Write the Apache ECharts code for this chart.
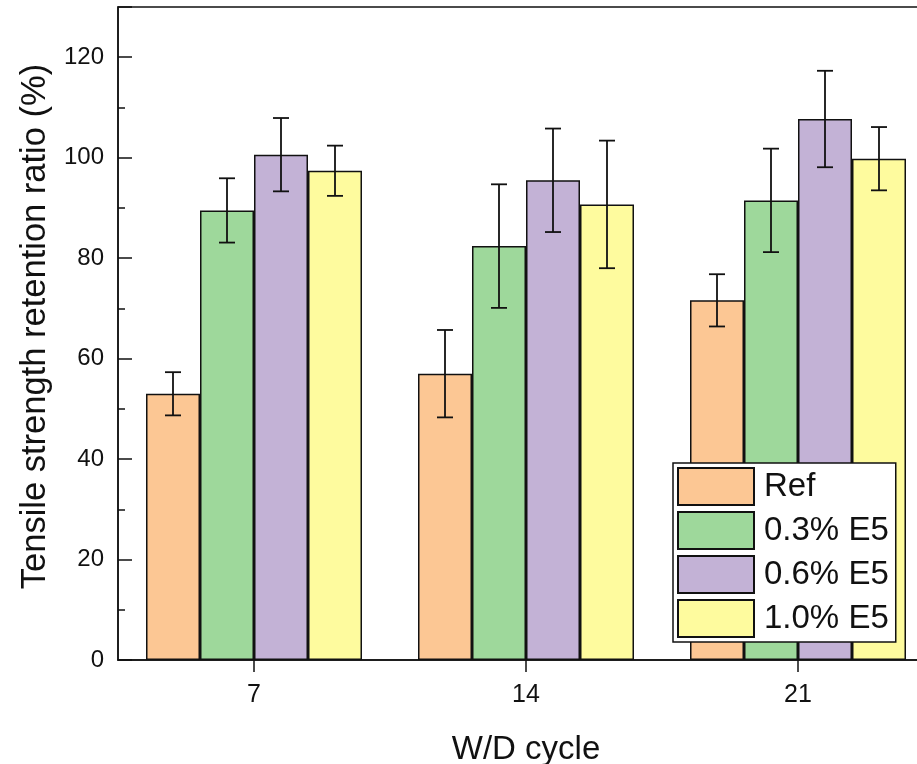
<!DOCTYPE html>
<html>
<head>
<meta charset="utf-8">
<script src="https://cdn.jsdelivr.net/npm/echarts@6/dist/echarts.min.js"></script>
<style>html,body{margin:0;padding:0;background:#fff;}#c{width:917px;height:764px;}</style>
</head>
<body>
<div id="c"></div>
<script>
const categories = ['7', '14', '21'];
const seriesNames = ['Ref', '0.3% E5', '0.6% E5', '1.0% E5'];
const refMean = [53.0, 57.0, 71.6];
const refErr = [4.3, 8.7, 5.2];
const e03Mean = [89.5, 82.4, 91.5];
const e03Err = [6.4, 12.3, 10.3];
const e06Mean = [100.6, 95.5, 107.7];
const e06Err = [7.3, 10.3, 9.6];
const e10Mean = [97.4, 90.7, 99.8];
const e10Err = [5.0, 12.7, 6.3];
const yTicks = [0, 20, 40, 60, 80, 100, 120];

const means = [refMean, e03Mean, e06Mean, e10Mean];
const errs = [refErr, e03Err, e06Err, e10Err];
const colors = ['#FCC794', '#9ED89B', '#C3B2D6', '#FEFB9E'];
const FONT = '"Liberation Sans", Arial, sans-serif';
const BAR_W = 54;

const chart = echarts.init(document.getElementById('c'), null, {renderer: 'canvas'});

const series = [];
means.forEach((m, i) => {
  series.push({
    name: seriesNames[i],
    type: 'bar',
    data: m,
    barWidth: BAR_W,
    barGap: '0%',
    itemStyle: {color: colors[i], borderColor: '#111', borderWidth: 1.5},
    z: 2
  });
});
means.forEach((m, i) => {
  const off = (i - 1.5) * BAR_W;
  series.push({
    type: 'custom',
    name: 'err' + i,
    data: m.map((v, k) => [k, v - errs[i][k], v + errs[i][k]]),
    encode: {x: 0, y: [1, 2]},
    z: 5,
    silent: true,
    renderItem: function (params, api) {
      const c = api.value(0);
      const lo = api.coord([c, api.value(1)]);
      const hi = api.coord([c, api.value(2)]);
      const x = lo[0] + off;
      const hw = 8;
      const st = {stroke: '#111', lineWidth: 1.8};
      return {
        type: 'group',
        children: [
          {type: 'line', shape: {x1: x, y1: lo[1], x2: x, y2: hi[1]}, style: st},
          {type: 'line', shape: {x1: x - hw, y1: lo[1], x2: x + hw, y2: lo[1]}, style: st},
          {type: 'line', shape: {x1: x - hw, y1: hi[1], x2: x + hw, y2: hi[1]}, style: st}
        ]
      };
    }
  });
});

chart.setOption({
  animation: false,
  backgroundColor: '#fff',
  textStyle: {fontFamily: FONT},
  grid: {left: 118, top: 7, width: 816, height: 653, outerBoundsMode: 'none', containLabel: false, show: true, borderColor: '#111', borderWidth: 1.5, backgroundColor: 'transparent'},
  legend: {
    data: seriesNames,
    orient: 'vertical',
    left: 673,
    top: 463,
    padding: [4, 7, 4, 4],
    itemWidth: 76,
    itemHeight: 37,
    itemGap: 5,
    backgroundColor: '#fff',
    borderColor: '#111',
    borderWidth: 1.5,
    borderRadius: 0,
    icon: 'rect',
    textStyle: {fontSize: 33, color: '#111', fontFamily: FONT, padding: [0, 0, 0, 5]},
    z: 10
  },
  xAxis: {
    type: 'category',
    data: categories,
    name: 'W/D cycle',
    nameLocation: 'middle',
    nameGap: 73,
    nameTextStyle: {fontSize: 33, color: '#111', fontFamily: FONT},
    axisLine: {lineStyle: {color: '#111', width: 1.5}},
    axisTick: {show: true, alignWithLabel: true, length: 12, lineStyle: {color: '#111', width: 1.5}},
    axisLabel: {fontSize: 25, color: '#111', margin: 23, fontFamily: FONT},
    splitLine: {show: false}
  },
  yAxis: {
    type: 'value',
    min: 0,
    max: 130,
    interval: 20,
    name: 'Tensile strength retention ratio (%)',
    nameLocation: 'middle',
    nameGap: 62,
    nameTextStyle: {fontSize: 34.5, color: '#111', fontFamily: FONT, padding: [0, 0, 0, 14]},
    axisLine: {show: true, lineStyle: {color: '#111', width: 1.5}},
    axisTick: {show: true, inside: true, length: 14, lineStyle: {color: '#111', width: 1.5}},
    minorTick: {show: true, splitNumber: 2, length: 7, lineStyle: {color: '#111', width: 1.5}},
    axisLabel: {
      fontSize: 24, color: '#111', margin: 14, fontFamily: FONT,
      formatter: function (v) { return yTicks.indexOf(v) >= 0 ? String(v) : ''; }
    },
    splitLine: {show: false}
  },
  series: series
});
</script>
</body>
</html>
